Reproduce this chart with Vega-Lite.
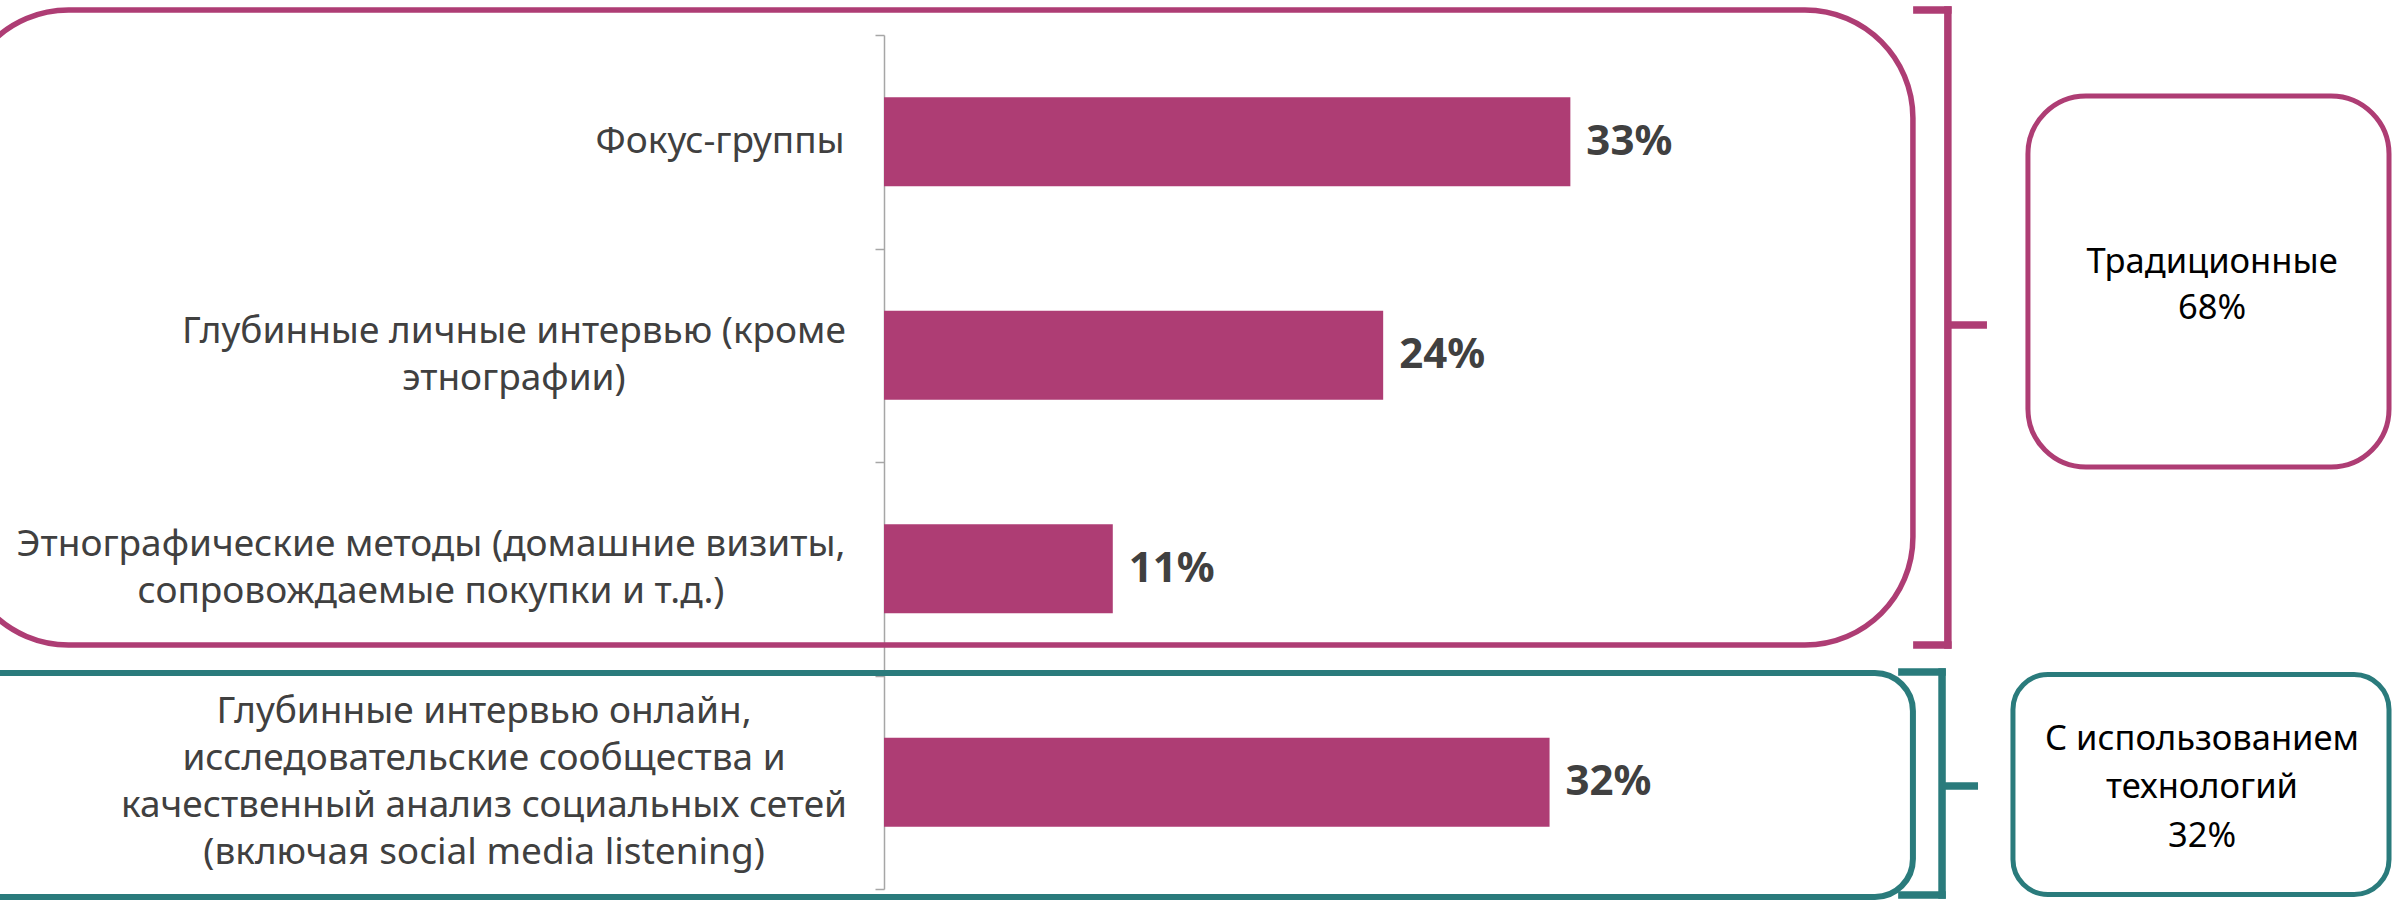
{
  "$schema": "https://vega.github.io/schema/vega-lite/v6.json",
  "autosize": {"type": "none"},
  "width": 1510,
  "height": 854,
  "padding": {"left": 884, "top": 35, "right": 0, "bottom": 11},
  "background": "white",
  "config": {"view": {"stroke": null}, "font": "Noto Sans"},
  "datasets": {
    "methods": [
      {"method": "Фокус-группы", "share": 0.33},
      {"method": "Глубинные личные интервью (кроме\nэтнографии)", "share": 0.24},
      {"method": "Этнографические методы (домашние визиты,\nсопровождаемые покупки и т.д.)", "share": 0.11},
      {"method": "Глубинные интервью онлайн,\nисследовательские сообщества и\nкачественный анализ социальных сетей\n(включая social media listening)", "share": 0.32}
    ],
    "groups": [
      {"group": "Традиционные", "share": 0.68, "first": "Фокус-группы", "mid": "Глубинные личные интервью (кроме\nэтнографии)", "last": "Этнографические методы (домашние визиты,\nсопровождаемые покупки и т.д.)", "text": "Традиционные\n68%"},
      {"group": "С использованием технологий", "share": 0.32, "first": "Глубинные интервью онлайн,\nисследовательские сообщества и\nкачественный анализ социальных сетей\n(включая social media listening)", "mid": "Глубинные интервью онлайн,\nисследовательские сообщества и\nкачественный анализ социальных сетей\n(включая social media listening)", "last": "Глубинные интервью онлайн,\nисследовательские сообщества и\nкачественный анализ социальных сетей\n(включая social media listening)", "text": "С использованием\nтехнологий\n32%"}
    ]
  },
  "layer": [
    {
      "data": {"name": "methods"},
      "mark": {"type": "bar", "height": {"band": 0.417}, "color": "#AE3D74"},
      "encoding": {
        "y": {
          "field": "method", "type": "nominal", "title": null,
          "scale": {
            "type": "band",
            "domain": [
              "Фокус-группы",
              "Глубинные личные интервью (кроме\nэтнографии)",
              "Этнографические методы (домашние визиты,\nсопровождаемые покупки и т.д.)",
              "Глубинные интервью онлайн,\nисследовательские сообщества и\nкачественный анализ социальных сетей\n(включая social media listening)"
            ],
            "paddingInner": 0, "paddingOuter": 0
          },
          "axis": {
            "labels": false,
            "tickBand": "extent", "tickSize": 9, "tickColor": "#A6A6A6", "tickWidth": 1.5,
            "domainColor": "#A6A6A6", "domainWidth": 1.5, "grid": false
          }
        },
        "x": {"field": "share", "type": "quantitative", "scale": {"domain": [0, 0.726], "nice": false}, "axis": null}
      }
    },
    {
      "data": {"name": "methods"},
      "mark": {"type": "text", "align": "left", "baseline": "middle", "dx": 16, "font": "Noto Sans", "fontSize": 42, "fontWeight": "bold", "color": "#404040"},
      "encoding": {
        "y": {"field": "method", "type": "nominal", "title": null},
        "x": {"field": "share", "type": "quantitative", "axis": null},
        "text": {"field": "share", "type": "quantitative", "format": ".0%"}
      }
    },
    {
      "data": {"name": "methods"},
      "transform": [{"filter": {"field": "share", "equal": 0.33}}],
      "mark": {"type": "text", "align": "center", "baseline": "middle", "lineBreak": "\n", "lineHeight": 47, "font": "Noto Sans", "fontSize": 37, "color": "#404040"},
      "encoding": {
        "y": {"field": "method", "type": "nominal", "bandPosition": 0.5, "title": null},
        "x": {"datum": -0.0788, "type": "quantitative", "axis": null},
        "text": {"field": "method", "type": "nominal"}
      }
    },
    {
      "data": {"name": "methods"},
      "transform": [{"filter": {"field": "share", "equal": 0.24}}],
      "mark": {"type": "text", "align": "center", "baseline": "middle", "lineBreak": "\n", "lineHeight": 47, "font": "Noto Sans", "fontSize": 37, "color": "#404040"},
      "encoding": {
        "y": {"field": "method", "type": "nominal", "bandPosition": 0.39, "title": null},
        "x": {"datum": -0.1779, "type": "quantitative", "axis": null},
        "text": {"field": "method", "type": "nominal"}
      }
    },
    {
      "data": {"name": "methods"},
      "transform": [{"filter": {"field": "share", "equal": 0.11}}],
      "mark": {"type": "text", "align": "center", "baseline": "middle", "lineBreak": "\n", "lineHeight": 47, "font": "Noto Sans", "fontSize": 37, "color": "#404040"},
      "encoding": {
        "y": {"field": "method", "type": "nominal", "bandPosition": 0.39, "title": null},
        "x": {"datum": -0.2178, "type": "quantitative", "axis": null},
        "text": {"field": "method", "type": "nominal"}
      }
    },
    {
      "data": {"name": "methods"},
      "transform": [{"filter": {"field": "share", "equal": 0.32}}],
      "mark": {"type": "text", "align": "center", "baseline": "middle", "lineBreak": "\n", "lineHeight": 47, "font": "Noto Sans", "fontSize": 37, "color": "#404040"},
      "encoding": {
        "y": {"field": "method", "type": "nominal", "bandPosition": 0.173, "title": null},
        "x": {"datum": -0.1923, "type": "quantitative", "axis": null},
        "text": {"field": "method", "type": "nominal"}
      }
    },
    {
      "data": {"name": "groups"},
      "transform": [{"filter": {"field": "group", "equal": "Традиционные"}}],
      "mark": {"type": "rect", "fill": "transparent", "stroke": "#AE3D74", "strokeWidth": 5.5, "cornerRadius": 108},
      "encoding": {
        "x": {"datum": -0.444, "type": "quantitative", "axis": null}, "x2": {"datum": 0.4947},
        "y": {"field": "first", "type": "nominal", "bandPosition": -0.117, "title": null},
        "y2": {"field": "last", "bandPosition": 0.857}
      }
    },
    {
      "data": {"name": "groups"},
      "transform": [{"filter": {"field": "group", "equal": "С использованием технологий"}}],
      "mark": {"type": "rect", "fill": "transparent", "stroke": "#2A7B7C", "strokeWidth": 6, "cornerRadius": 38},
      "encoding": {
        "x": {"datum": -0.444, "type": "quantitative", "axis": null}, "x2": {"datum": 0.4947},
        "y": {"field": "first", "type": "nominal", "bandPosition": -0.012, "title": null},
        "y2": {"field": "last", "bandPosition": 1.037}
      }
    },
    {
      "data": {"name": "groups"},
      "transform": [{"filter": {"field": "group", "equal": "Традиционные"}}],
      "mark": {"type": "rule", "stroke": "#AE3D74", "strokeWidth": 7.5, "strokeCap": "square"},
      "encoding": {
        "x": {"datum": 0.5115, "type": "quantitative", "axis": null},
        "y": {"field": "first", "type": "nominal", "bandPosition": -0.117, "title": null},
        "y2": {"field": "last", "bandPosition": 0.857}
      }
    },
    {
      "data": {"name": "groups"},
      "transform": [{"filter": {"field": "group", "equal": "Традиционные"}}],
      "mark": {"type": "rule", "stroke": "#AE3D74", "strokeWidth": 7.5, "strokeCap": "square"},
      "encoding": {
        "x": {"datum": 0.4966, "type": "quantitative", "axis": null}, "x2": {"datum": 0.5115},
        "y": {"field": "first", "type": "nominal", "bandPosition": -0.117, "title": null}
      }
    },
    {
      "data": {"name": "groups"},
      "transform": [{"filter": {"field": "group", "equal": "Традиционные"}}],
      "mark": {"type": "rule", "stroke": "#AE3D74", "strokeWidth": 7.5, "strokeCap": "square"},
      "encoding": {
        "x": {"datum": 0.4966, "type": "quantitative", "axis": null}, "x2": {"datum": 0.5115},
        "y": {"field": "last", "type": "nominal", "bandPosition": 0.857, "title": null}
      }
    },
    {
      "data": {"name": "groups"},
      "transform": [{"filter": {"field": "group", "equal": "Традиционные"}}],
      "mark": {"type": "rule", "stroke": "#AE3D74", "strokeWidth": 7.5, "strokeCap": "butt"},
      "encoding": {
        "x": {"datum": 0.5115, "type": "quantitative", "axis": null}, "x2": {"datum": 0.5303},
        "y": {"field": "mid", "type": "nominal", "bandPosition": 0.358, "title": null}
      }
    },
    {
      "data": {"name": "groups"},
      "transform": [{"filter": {"field": "group", "equal": "С использованием технологий"}}],
      "mark": {"type": "rule", "stroke": "#2A7B7C", "strokeWidth": 7.5, "strokeCap": "square"},
      "encoding": {
        "x": {"datum": 0.5087, "type": "quantitative", "axis": null},
        "y": {"field": "first", "type": "nominal", "bandPosition": -0.016, "title": null},
        "y2": {"field": "last", "bandPosition": 1.028}
      }
    },
    {
      "data": {"name": "groups"},
      "transform": [{"filter": {"field": "group", "equal": "С использованием технологий"}}],
      "mark": {"type": "rule", "stroke": "#2A7B7C", "strokeWidth": 7.5, "strokeCap": "square"},
      "encoding": {
        "x": {"datum": 0.4894, "type": "quantitative", "axis": null}, "x2": {"datum": 0.5087},
        "y": {"field": "first", "type": "nominal", "bandPosition": -0.016, "title": null}
      }
    },
    {
      "data": {"name": "groups"},
      "transform": [{"filter": {"field": "group", "equal": "С использованием технологий"}}],
      "mark": {"type": "rule", "stroke": "#2A7B7C", "strokeWidth": 7.5, "strokeCap": "square"},
      "encoding": {
        "x": {"datum": 0.4894, "type": "quantitative", "axis": null}, "x2": {"datum": 0.5087},
        "y": {"field": "last", "type": "nominal", "bandPosition": 1.028, "title": null}
      }
    },
    {
      "data": {"name": "groups"},
      "transform": [{"filter": {"field": "group", "equal": "С использованием технологий"}}],
      "mark": {"type": "rule", "stroke": "#2A7B7C", "strokeWidth": 7.5, "strokeCap": "butt"},
      "encoding": {
        "x": {"datum": 0.5087, "type": "quantitative", "axis": null}, "x2": {"datum": 0.526},
        "y": {"field": "mid", "type": "nominal", "bandPosition": 0.517, "title": null}
      }
    },
    {
      "data": {"name": "groups"},
      "transform": [{"filter": {"field": "group", "equal": "Традиционные"}}],
      "mark": {"type": "rect", "fill": "transparent", "stroke": "#AE3D74", "strokeWidth": 5, "cornerRadius": 58},
      "encoding": {
        "x": {"datum": 0.55, "type": "quantitative", "axis": null}, "x2": {"datum": 0.7236},
        "y": {"field": "first", "type": "nominal", "bandPosition": 0.286, "title": null},
        "y2": {"field": "last", "bandPosition": 0.023}
      }
    },
    {
      "data": {"name": "groups"},
      "transform": [{"filter": {"field": "group", "equal": "С использованием технологий"}}],
      "mark": {"type": "rect", "fill": "transparent", "stroke": "#2A7B7C", "strokeWidth": 5, "cornerRadius": 35},
      "encoding": {
        "x": {"datum": 0.5428, "type": "quantitative", "axis": null}, "x2": {"datum": 0.7236},
        "y": {"field": "first", "type": "nominal", "bandPosition": -0.005, "title": null},
        "y2": {"field": "last", "bandPosition": 1.026}
      }
    },
    {
      "data": {"name": "groups"},
      "transform": [{"filter": {"field": "group", "equal": "Традиционные"}}],
      "mark": {"type": "text", "align": "center", "baseline": "middle", "lineBreak": "\n", "lineHeight": 46, "font": "Noto Sans", "fontSize": 34.5, "color": "#000000"},
      "encoding": {
        "x": {"datum": 0.6385, "type": "quantitative", "axis": null},
        "y": {"field": "mid", "type": "nominal", "bandPosition": 0.07, "title": null},
        "text": {"field": "text", "type": "nominal"}
      }
    },
    {
      "data": {"name": "groups"},
      "transform": [{"filter": {"field": "group", "equal": "С использованием технологий"}}],
      "mark": {"type": "text", "align": "center", "baseline": "middle", "lineBreak": "\n", "lineHeight": 48.5, "font": "Noto Sans", "fontSize": 34.5, "color": "#000000"},
      "encoding": {
        "x": {"datum": 0.6337, "type": "quantitative", "axis": null},
        "y": {"field": "mid", "type": "nominal", "bandPosition": 0.3, "title": null},
        "text": {"field": "text", "type": "nominal"}
      }
    }
  ]
}
